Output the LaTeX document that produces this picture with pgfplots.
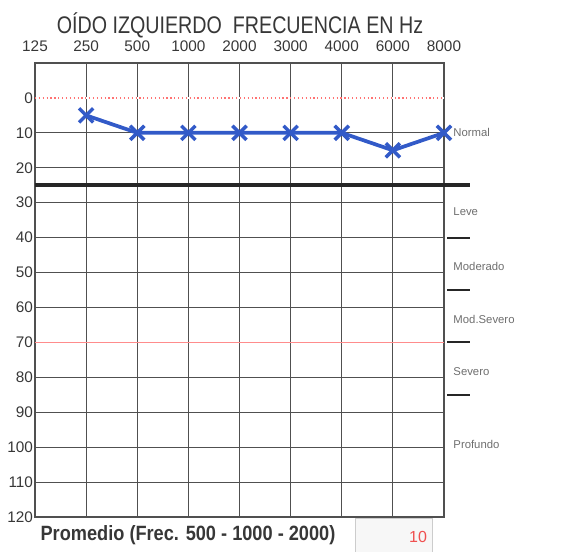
\documentclass[border=0pt]{standalone}
\usepackage{pgfplots}
\pgfplotsset{compat=1.18}
\usepackage{fontspec}
\setmainfont{Liberation Sans}
\definecolor{blueline}{RGB}{50,90,200}
\definecolor{gridc}{RGB}{80,80,80}
\definecolor{txt}{RGB}{55,55,55}
\definecolor{lbl}{RGB}{110,110,110}
\begin{document}
\begin{tikzpicture}
\path[use as bounding box] (-26.25pt,-26.25pt) rectangle (414.75pt,387.75pt);
\begin{axis}[
  scale only axis, width=306.75pt, height=340.5pt,
  xmin=0, xmax=8, ymin=-10, ymax=120, y dir=reverse,
  xtick={0,...,8},
  xticklabels={125,250,500,1000,2000,3000,4000,6000,8000},
  xticklabel pos=top,
  xticklabel style={yshift=5pt},
  ytick={0,10,...,120},
  yticklabel style={xshift=2pt},
  grid=major,
  major grid style={gridc, line width=0.6pt},
  axis line style={gridc, line width=0.8pt},
  tick style={draw=none},
  ticklabel style={font=\fontsize{11.5}{12}\selectfont, text=txt},
  /pgf/number format/assume math mode=true,
  clip=false,
]
\draw[white, line width=1pt] (axis cs:0,0) -- (axis cs:8,0);
\draw[red!55, dotted, line width=0.9pt] (axis cs:0,0) -- (axis cs:8,0);
\draw[red!45!white, line width=0.6pt] (axis cs:0,70) -- (axis cs:8,70);
\draw[black!85, line width=3pt] (axis cs:0,25) -- (axis cs:8.51,25);
\draw[black!85, line width=1.6pt] (axis cs:8.06,40) -- (axis cs:8.51,40);
\draw[black!85, line width=1.6pt] (axis cs:8.06,55) -- (axis cs:8.51,55);
\draw[black!85, line width=1.6pt] (axis cs:8.06,70) -- (axis cs:8.51,70);
\draw[black!85, line width=1.6pt] (axis cs:8.06,85) -- (axis cs:8.51,85);
\addplot[blueline, line width=2.8pt, mark=x, mark size=7.5pt, mark options={line width=2.6pt}]
  coordinates {(1,5)(2,10)(3,10)(4,10)(5,10)(6,10)(7,15)(8,10)};
\begin{scope}[every node/.style={anchor=west, inner sep=0pt, font=\fontsize{8.5}{9}\selectfont, text=lbl}]
\node at (axis cs:8.18,10) {Normal};
\node at (axis cs:8.18,32.6) {Leve};
\node at (axis cs:8.18,48.3) {Moderado};
\node at (axis cs:8.18,63.4) {Mod.Severo};
\node at (axis cs:8.18,78.3) {Severo};
\node at (axis cs:8.18,99.1) {Profundo};
\end{scope}
\end{axis}
\node[text=txt] at (153.75pt,369pt) {\scalebox{0.82}[1]{\fontsize{18}{18}\selectfont OÍDO IZQUIERDO\ \ FRECUENCIA EN Hz}};
\node[text=txt] at (114.75pt,-13.5pt) {\scalebox{0.88}[1]{\fontsize{15.5}{16}\selectfont\bfseries Promedio (Frec. 500 - 1000 - 2000)}};
\draw[black!20, fill=black!3] (240pt,-26.25pt) rectangle (297.75pt,-0.75pt);
\node[text={rgb,255:red,240;green,80;blue,80}] at (287.25pt,-15pt) {\fontsize{12}{12}\selectfont 10};
\end{tikzpicture}
\end{document}
